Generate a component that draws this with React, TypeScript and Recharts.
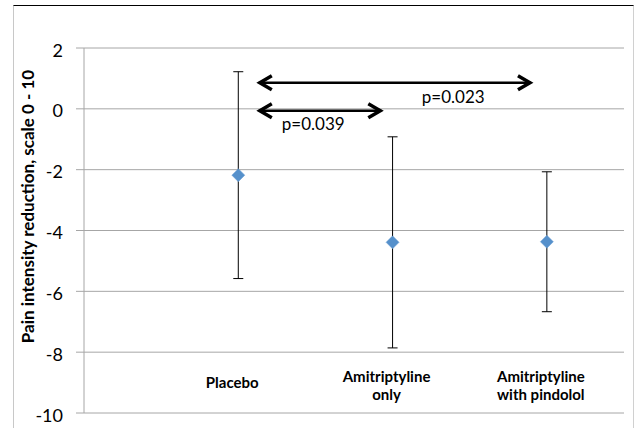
import React from 'react';
import {
  ScatterChart,
  Scatter,
  XAxis,
  YAxis,
  CartesianGrid,
  ErrorBar,
  ReferenceLine,
  Label,
} from 'recharts';

// ---- data ----
const categories = ['Placebo', 'Amitriptyline only', 'Amitriptyline with pindolol'];
const categoryLines = [['Placebo'], ['Amitriptyline', 'only'], ['Amitriptyline', 'with pindolol']];
const positions = [1, 2, 3];
const means = [-2.18, -4.39, -4.37];
const errors = [3.4, 3.47, 2.3];
const yTicks = [-10, -8, -6, -4, -2, 0, 2];
const yAxisTitle = 'Pain intensity reduction, scale 0 - 10';
const comparisons = [
  { label: 'p=0.023', from: 1.12, to: 2.91, y: 0.855 },
  { label: 'p=0.039', from: 1.12, to: 1.94, y: -0.06 },
];

// label placement relative to arrow's left end (pixels) – style only
const labelOffsets = [
  { dx: 165, dy: 20 },
  { dx: 25, dy: 19 },
];

const points = positions.map((x, i) => ({ x, y: means[i], err: errors[i], name: categories[i] }));

const GRID = '#a6a6a6';
const FONT = 'Lato, "Open Sans", sans-serif';

const Diamond = (props: any) => {
  const { cx, cy } = props;
  const h = 6.5;
  return (
    <polygon
      points={`${cx},${cy - h} ${cx + h},${cy} ${cx},${cy + h} ${cx - h},${cy}`}
      fill="#5590CB"
      stroke="#6a9fd4"
      strokeWidth={0.5}
    />
  );
};

const makeArrow = (idx: number) => (props: any) => {
  const { x1, y1, x2 } = props;
  const left = Math.min(x1, x2);
  const right = Math.max(x1, x2);
  const y = y1;
  const hl = 12;
  const hw = 7;
  const off = labelOffsets[idx];
  return (
    <g>
      <line x1={left + 2} y1={y} x2={right - 2} y2={y} stroke="#000" strokeWidth={2.5} />
      <polyline
        points={`${left + 3 + hl},${y - hw} ${left + 3},${y} ${left + 3 + hl},${y + hw}`}
        fill="none"
        stroke="#000"
        strokeWidth={3.5}
      />
      <polyline
        points={`${right - 3 - hl},${y - hw} ${right - 3},${y} ${right - 3 - hl},${y + hw}`}
        fill="none"
        stroke="#000"
        strokeWidth={3.5}
      />
      <text x={left + off.dx} y={y + off.dy} fontFamily={FONT} fontSize={17} fill="#000">
        {comparisons[idx].label}
      </text>
    </g>
  );
};

const CategoryTick = (props: any) => {
  const { x, y, payload } = props;
  const i = positions.indexOf(payload.value);
  if (i < 0) return null;
  const lines = categoryLines[i];
  const baseDy = lines.length === 1 ? -25 : -31;
  return (
    <text
      x={x - 6}
      y={y + baseDy}
      textAnchor="middle"
      fontFamily={FONT}
      fontWeight={700}
      fontSize={15}
      fill="#000"
    >
      {lines.map((l, k) => (
        <tspan key={k} x={x - 6} dy={k === 0 ? 0 : 17.5}>
          {l}
        </tspan>
      ))}
    </text>
  );
};

const ValueTick = (props: any) => {
  const { x, y, payload } = props;
  return (
    <text x={x} y={y} dy={8.5} textAnchor="end" fontFamily={FONT} fontSize={18} fill="#000">
      {payload.value}
    </text>
  );
};

export default function App() {
  return (
    <div
      style={{
        position: 'absolute',
        left: 0,
        top: 0,
        width: 636,
        height: 428,
        overflow: 'hidden',
        background: '#fff',
      }}
    >
      <div
        style={{
          position: 'absolute',
          left: 13,
          top: 5,
          width: 621,
          height: 423,
          borderTop: '1.5px solid #000',
          borderLeft: '1px solid #c8c8c8',
          borderRight: '1px solid #d0d0d0',
          boxSizing: 'border-box',
        }}
      />
      <div style={{ position: 'absolute', left: 0, top: 0 }}>
        <ScatterChart width={636} height={428} margin={{ top: 48, right: 12, bottom: 0, left: 0 }}>
          <CartesianGrid vertical={false} stroke={GRID} />
          <XAxis
            type="number"
            dataKey="x"
            domain={[0, 3.5]}
            ticks={positions}
            interval={0}
            height={15}
            axisLine={false}
            tickLine={false}
            tickSize={0}
            tickMargin={0}
            tick={<CategoryTick />}
          />
          <YAxis
            type="number"
            dataKey="y"
            domain={[-10, 2]}
            ticks={yTicks}
            interval={0}
            width={84}
            tickSize={8}
            tickMargin={13}
            axisLine={{ stroke: GRID }}
            tickLine={{ stroke: GRID }}
            tick={<ValueTick />}
          >
            <Label
              content={() => (
                <text
                  x={34}
                  y={206.5}
                  transform="rotate(-90 34 206.5)"
                  textAnchor="middle"
                  fontFamily={FONT}
                  fontWeight={700}
                  fontSize={17}
                  fill="#000"
                >
                  {yAxisTitle}
                </text>
              )}
            />
          </YAxis>
          {comparisons.map((c, i) => (
            <ReferenceLine
              key={i}
              segment={[
                { x: c.from, y: c.y },
                { x: c.to, y: c.y },
              ]}
              stroke="#000"
              shape={makeArrow(i)}
            />
          ))}
          <Scatter data={points} shape={<Diamond />} isAnimationActive={false}>
            <ErrorBar dataKey="err" direction="y" width={5} stroke="#000" strokeWidth={1} />
          </Scatter>
        </ScatterChart>
      </div>
    </div>
  );
}
